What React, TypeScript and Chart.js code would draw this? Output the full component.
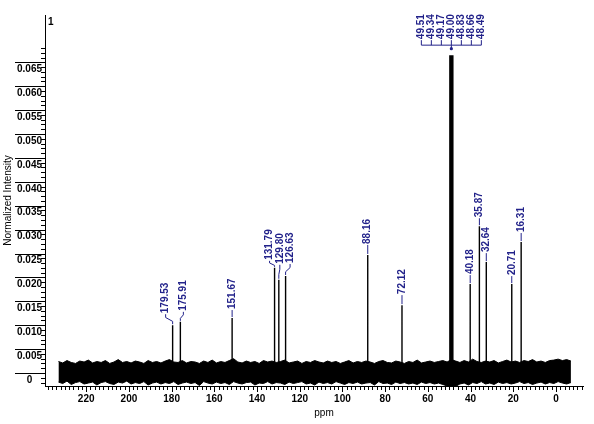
import React, { useEffect, useRef } from 'react';
import { Chart, registerables } from 'chart.js';

Chart.register(...registerables);

// ---- axis ticks ----
const X_TICKS = [220, 200, 180, 160, 140, 120, 100, 80, 60, 40, 20, 0];
const Y_TICKS = [0, 0.005, 0.01, 0.015, 0.02, 0.025, 0.03, 0.035, 0.04, 0.045, 0.05, 0.055, 0.06, 0.065];
const X_MIN = -12.65;
const X_MAX = 239.3;
const Y_MIN = -0.00272;
const Y_MAX = 0.0749;
const TOP_LABEL = '1';

// ---- peaks (ppm, normalized intensity) ----
const PEAK_PPM = [179.53, 175.91, 151.67, 131.79, 129.8, 126.63, 88.16, 72.12, 40.18, 35.87, 32.64, 20.71, 16.31];
const PEAK_HEIGHT = [0.0100, 0.0107, 0.0115, 0.0220, 0.0195, 0.0203, 0.0247, 0.0142, 0.0186, 0.0307, 0.0232, 0.0186, 0.0274];

// ---- solvent multiplet (clipped) ----
const SOLVENT_PPM = [49.51, 49.34, 49.17, 49.0, 48.83, 48.66, 48.49];
const SOLVENT_HEIGHT = [0.0665, 0.0665, 0.0665, 0.0665, 0.0665, 0.0665, 0.0665];

// ---- baseline noise envelope (x 0.001) ----
const NOISE_PPM = [
  233, 231, 229, 227, 225, 223, 221, 219, 217, 215,
  213, 211, 209, 207, 205, 203, 201, 199, 197, 195,
  193, 191, 189, 187, 185, 183, 181, 179, 177, 175,
  173, 171, 169, 167, 165, 163, 161, 159, 157, 155,
  153, 151, 149, 147, 145, 143, 141, 139, 137, 135,
  133, 131, 129, 127, 125, 123, 121, 119, 117, 115,
  113, 111, 109, 107, 105, 103, 101, 99, 97, 95,
  93, 91, 89, 87, 85, 83, 81, 79, 77, 75,
  73, 71, 69, 67, 65, 63, 61, 59, 57, 55,
  53, 51, 49, 47, 45, 43, 41, 39, 37, 35,
  33, 31, 29, 27, 25, 23, 21, 19, 17, 15,
  13, 11, 9, 7, 5, 3, 1, -1, -3, -5,
  -7,
];
const NOISE_HIGH = [
  2.4, 2.1, 2.6, 2.2, 2.0, 2.5, 2.3, 2.7, 2.1, 2.4,
  2.2, 2.6, 2.0, 2.3, 2.8, 2.2, 2.4, 2.1, 2.5, 2.3,
  2.0, 2.6, 2.2, 2.4, 2.1, 2.5, 2.8, 2.3, 2.2, 2.6,
  2.1, 2.4, 2.3, 2.0, 2.5, 2.2, 2.7, 2.1, 2.4, 2.2,
  2.6, 3.0, 2.3, 2.1, 2.5, 2.2, 2.4, 2.0, 2.6, 2.3,
  2.5, 2.2, 2.4, 2.7, 2.1, 2.3, 2.5, 2.0, 2.4, 2.2,
  2.6, 2.3, 2.1, 2.5, 2.2, 2.4, 2.0, 2.3, 2.6, 2.1,
  2.4, 2.2, 2.5, 2.3, 2.0, 2.4, 2.6, 2.2, 2.1, 2.5,
  2.3, 2.0, 2.4, 2.2, 2.7, 2.1, 2.3, 2.5, 2.2, 2.4,
  2.6, 2.3, 2.8, 2.5, 2.2, 2.6, 2.3, 2.9, 2.4, 2.2,
  2.5, 2.3, 2.6, 2.1, 2.4, 2.7, 2.3, 2.5, 2.2, 2.6,
  2.4, 2.8, 2.3, 2.5, 2.2, 2.6, 2.7, 2.9, 2.6, 2.8,
  2.5,
];
const NOISE_LOW = [
  -1.9, -2.2, -1.7, -2.4, -2.0, -1.8, -2.3, -2.1, -1.9, -2.5,
  -2.0, -1.8, -2.2, -2.4, -1.9, -2.1, -1.7, -2.3, -2.0, -2.2,
  -1.8, -2.5, -2.1, -1.9, -2.3, -2.0, -2.2, -1.8, -2.4, -2.1,
  -1.9, -2.2, -2.0, -2.6, -1.8, -2.1, -2.3, -1.9, -2.2, -2.0,
  -2.4, -1.8, -2.1, -2.3, -2.0, -1.9, -2.5, -2.1, -2.2, -1.8,
  -2.3, -2.0, -2.1, -2.4, -1.9, -2.2, -2.0, -1.8, -2.3, -2.1,
  -2.5, -1.9, -2.2, -2.0, -2.3, -1.8, -2.1, -2.4, -2.0, -2.2,
  -1.9, -2.3, -2.1, -2.0, -2.5, -1.8, -2.2, -2.1, -2.4, -1.9,
  -2.2, -2.0, -2.3, -2.1, -2.4, -1.9, -2.2, -2.0, -2.3, -2.1,
  -2.4, -2.7, -3.2, -2.8, -2.3, -2.1, -2.5, -2.0, -2.2, -1.8,
  -2.3, -2.1, -2.4, -1.9, -2.2, -2.0, -2.3, -2.1, -1.8, -2.2,
  -2.0, -2.4, -2.1, -1.9, -2.3, -2.0, -2.2, -1.8, -2.1, -2.3,
  -2.0,
];

// ---- label layout (pixels, style only) ----
const LABEL_SHIFT_PX = [-7, 3, 0, -5, 1, 4.5, 0, 0, 0, 0, 0, 0, 0];
const LABEL_GAP_PX = [11, 10, 8, 7, 15, 12, 10, 10, 9, 8, 9, 8, 9];
const LABEL_COLOR = '#22228a';
const FONT_FAMILY = '"Liberation Sans", Arial, Helvetica, sans-serif';

const overlayPlugin = {
  id: 'nmrOverlay',
  afterDraw(chart: any) {
    const { ctx, chartArea, scales } = chart;
    const xs = scales.x;
    const ys = scales.y;
    const line = (x1: number, y1: number, x2: number, y2: number) => {
      ctx.beginPath();
      ctx.moveTo(x1, y1);
      ctx.lineTo(x2, y2);
      ctx.stroke();
    };
    ctx.save();
    ctx.strokeStyle = '#000';
    ctx.lineWidth = 1;
    // y major tick lines (extend over labels)
    Y_TICKS.forEach((v) => {
      const y = Math.round(ys.getPixelForValue(v)) + 0.5;
      line(15, y, chartArea.left, y);
    });
    // y minor ticks
    for (let k = -2; k <= 68; k++) {
      const y = Math.round(ys.getPixelForValue(k / 1000)) + 0.5;
      line(chartArea.left - 4, y, chartArea.left, y);
    }
    // x ticks
    for (let p = 238; p >= -12; p -= 2) {
      const x = Math.round(xs.getPixelForValue(p)) + 0.5;
      const len = p % 20 === 0 ? 6 : 4;
      line(x, chartArea.bottom, x, chartArea.bottom + len);
    }
    // top "1"
    ctx.fillStyle = '#000';
    ctx.font = `bold 10px ${FONT_FAMILY}`;
    ctx.textAlign = 'left';
    ctx.textBaseline = 'middle';
    ctx.fillText(TOP_LABEL, chartArea.left + 3, chartArea.top + 7);
    // x title
    ctx.font = `10px ${FONT_FAMILY}`;
    ctx.textAlign = 'center';
    ctx.fillText('ppm', 324, 413);

    // peak labels
    ctx.strokeStyle = LABEL_COLOR;
    ctx.fillStyle = LABEL_COLOR;
    ctx.font = `bold 10px ${FONT_FAMILY}`;
    PEAK_PPM.forEach((p, i) => {
      const px = xs.getPixelForValue(p);
      const top = ys.getPixelForValue(PEAK_HEIGHT[i]);
      const lx = px + LABEL_SHIFT_PX[i];
      const gap = LABEL_GAP_PX[i];
      ctx.beginPath();
      ctx.moveTo(px, top - 1);
      if (Math.abs(lx - px) > 0.5) {
        ctx.lineTo(px, top - gap * 0.35);
        ctx.lineTo(lx, top - gap * 0.7);
      }
      ctx.lineTo(lx, top - gap);
      ctx.stroke();
      ctx.save();
      ctx.translate(lx, top - gap - 1);
      ctx.rotate(-Math.PI / 2);
      ctx.textAlign = 'left';
      ctx.textBaseline = 'middle';
      ctx.fillText(p.toFixed(2), 0, 0);
      ctx.restore();
    });

    // solvent multiplet labels
    const cx = xs.getPixelForValue(SOLVENT_PPM[3]);
    const stop = ys.getPixelForValue(Math.max(...SOLVENT_HEIGHT));
    const n = SOLVENT_PPM.length;
    const first = cx - 3 * 10;
    const last = cx + (n - 4) * 10;
    SOLVENT_PPM.forEach((p, i) => {
      const lx = cx + (i - 3) * 10;
      line(lx, stop - 15, lx, stop - 10);
      ctx.save();
      ctx.translate(lx, stop - 16);
      ctx.rotate(-Math.PI / 2);
      ctx.textAlign = 'left';
      ctx.textBaseline = 'middle';
      ctx.fillText(p.toFixed(2), 0, 0);
      ctx.restore();
    });
    line(first, stop - 10, last, stop - 10);
    line(cx, stop - 10, cx, stop - 7);
    ctx.beginPath();
    ctx.arc(cx, stop - 6.5, 1.6, 0, Math.PI * 2);
    ctx.fill();
    ctx.restore();
  },
};

export default function App() {
  const canvasRef = useRef<HTMLCanvasElement | null>(null);

  useEffect(() => {
    const canvas = canvasRef.current;
    if (!canvas) return;

    const peakData: any[] = [];
    PEAK_PPM.forEach((p, i) => {
      peakData.push({ x: p, y: -0.0015 });
      peakData.push({ x: p, y: PEAK_HEIGHT[i] });
      peakData.push({ x: p, y: null });
    });
    const solventData: any[] = [];
    SOLVENT_PPM.forEach((p, i) => {
      solventData.push({ x: p, y: -0.003 });
      solventData.push({ x: p, y: SOLVENT_HEIGHT[i] });
      solventData.push({ x: p, y: null });
    });
    const hi = NOISE_PPM.map((p, i) => ({ x: p, y: NOISE_HIGH[i] / 1000 }));
    const lo = NOISE_PPM.map((p, i) => ({ x: p, y: NOISE_LOW[i] / 1000 }));

    const tickFont = { family: FONT_FAMILY, size: 10, weight: 'bold' as const };

    const chart = new Chart(canvas, {
      type: 'line',
      data: {
        datasets: [
          {
            data: hi,
            borderColor: '#000',
            backgroundColor: '#000',
            borderWidth: 1,
            pointRadius: 0,
            fill: '+1',
            tension: 0,
          },
          {
            data: lo,
            borderColor: '#000',
            backgroundColor: '#000',
            borderWidth: 1,
            pointRadius: 0,
            fill: false,
            tension: 0,
          },
          {
            data: peakData,
            borderColor: '#000',
            borderWidth: 1.4,
            pointRadius: 0,
            fill: false,
            spanGaps: false,
          },
          {
            data: solventData,
            borderColor: '#000',
            borderWidth: 2.2,
            pointRadius: 0,
            fill: false,
            spanGaps: false,
          },
        ],
      },
      options: {
        animation: false,
        responsive: false,
        maintainAspectRatio: false,
        events: [],
        layout: { padding: { left: 0, top: 15, right: 11, bottom: 0 } },
        plugins: {
          legend: { display: false },
          tooltip: { enabled: false },
        },
        scales: {
          x: {
            type: 'linear',
            reverse: true,
            min: X_MIN,
            max: X_MAX,
            afterBuildTicks: (s: any) => {
              s.ticks = X_TICKS.map((v) => ({ value: v }));
            },
            afterFit: (s: any) => {
              s.height = 38;
            },
            grid: { display: false, drawTicks: false },
            border: { display: true, color: '#000', width: 1 },
            ticks: {
              padding: 7,
              color: '#000',
              font: tickFont,
              maxRotation: 0,
              autoSkip: false,
              callback: (v: any) => String(v),
            },
          },
          y: {
            type: 'linear',
            min: Y_MIN,
            max: Y_MAX,
            afterBuildTicks: (s: any) => {
              s.ticks = Y_TICKS.map((v) => ({ value: v }));
            },
            afterFit: (s: any) => {
              s.width = 45;
            },
            grid: { display: false, drawTicks: false },
            border: { display: true, color: '#000', width: 1 },
            ticks: {
              padding: 3,
              crossAlign: 'center',
              labelOffset: 7,
              color: '#000',
              font: tickFont,
              autoSkip: false,
              callback: (v: any) => (Number(v) === 0 ? '0' : Number(v).toFixed(3)),
            },
            title: {
              display: true,
              text: 'Normalized Intensity',
              color: '#000',
              font: { family: FONT_FAMILY, size: 10 },
              padding: { top: 2, bottom: 0 },
            },
          },
        },
      },
      plugins: [overlayPlugin],
    });

    return () => chart.destroy();
  }, []);

  return (
    <div style={{ position: 'fixed', left: 0, top: 0, width: 594, height: 424, background: '#fff' }}>
      <canvas ref={canvasRef} width={594} height={424} style={{ width: 594, height: 424, display: 'block' }} />
    </div>
  );
}
